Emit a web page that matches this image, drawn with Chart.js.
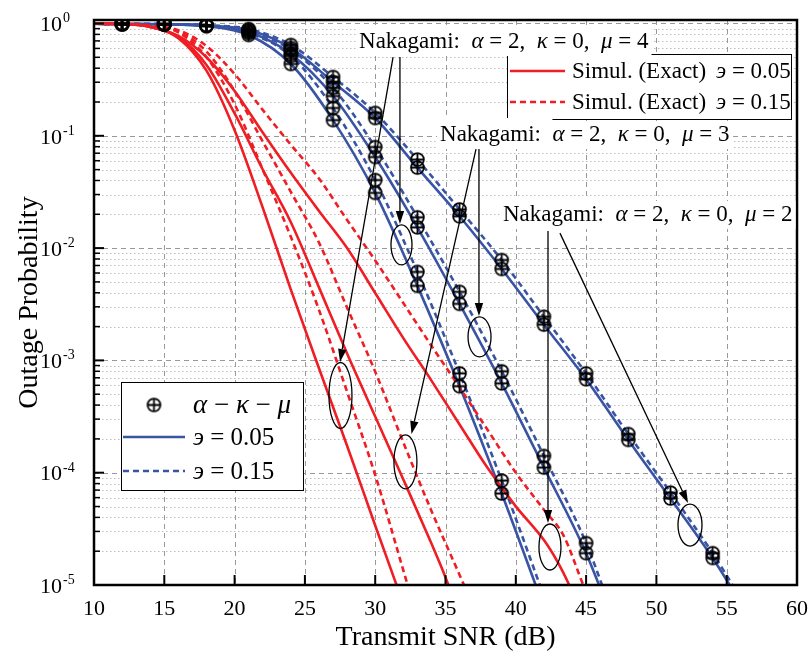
<!DOCTYPE html>
<html>
<head>
<meta charset="utf-8">
<script src="https://cdn.jsdelivr.net/npm/chart.js@4.4.0/dist/chart.umd.min.js"></script>
<style>
  html, body { margin: 0; padding: 0; background: #fff; }
  #wrap { width: 809px; height: 656px; }
</style>
</head>
<body>
<div id="wrap"><canvas id="chart" width="809" height="656"></canvas></div>
<script>
// --- DATA ---
// alpha-kappa-mu analysis (blue lines + markers)
const snrMu2 = [10, 12, 15, 18, 21, 24, 27, 30, 33, 36, 39, 42, 45, 48, 51, 54, 56];
const akmMu2Eps005 = [0.995, 0.99, 0.985, 0.96, 0.875, 0.605, 0.301, 0.144, 0.0521, 0.0192, 6.52e-3, 2.08e-3, 6.79e-4, 1.96e-4, 5.89e-5, 1.74e-5, 6.92e-6];
const akmMu2Eps015 = [0.995, 0.99, 0.985, 0.965, 0.893, 0.644, 0.334, 0.160, 0.0614, 0.0221, 7.83e-3, 2.45e-3, 7.67e-4, 2.21e-4, 6.65e-5, 1.92e-5, 7.59e-6];

const snrMu3 = [10, 12, 15, 18, 21, 24, 27, 30, 33, 36, 39, 42, 45, 47];
const akmMu3Eps005 = [0.995, 0.99, 0.985, 0.955, 0.84, 0.535, 0.226, 0.0647, 0.0153, 3.19e-3, 6.25e-4, 1.11e-4, 1.92e-5, 4.47e-6];
const akmMu3Eps015 = [0.995, 0.99, 0.985, 0.96, 0.857, 0.581, 0.267, 0.0794, 0.0188, 4.08e-3, 8.0e-4, 1.41e-4, 2.36e-5, 5.01e-6];

const snrMu4 = [10, 12, 15, 18, 21, 24, 27, 30, 33, 36, 39, 42];
const akmMu4Eps005 = [0.995, 0.99, 0.985, 0.95, 0.79, 0.436, 0.138, 0.031, 4.61e-3, 5.89e-4, 6.52e-5, 6.31e-6];
const akmMu4Eps015 = [0.995, 0.99, 0.985, 0.955, 0.823, 0.514, 0.177, 0.0404, 6.14e-3, 7.67e-4, 8.51e-5, 7.94e-6];

const markerSnr = [12, 15, 18, 21, 24, 27, 30, 33, 36, 39, 42, 45, 48, 51, 54];

// Nakagami simulation (red lines)
const snrSimMu4Eps005 = [10, 12, 14, 16, 18, 20, 22, 24, 26, 28, 30, 31.4, 32];
const simMu4Eps005 = [0.995, 0.989, 0.933, 0.741, 0.380, 0.112, 0.0229, 4.27e-3, 8.51e-4, 1.74e-4, 3.39e-5, 1.10e-5, 6.76e-6];
const snrSimMu4Eps015 = [10, 12, 14, 16, 18, 20, 22, 24, 26, 28, 30, 32, 33];
const simMu4Eps015 = [0.995, 0.991, 0.955, 0.832, 0.501, 0.191, 0.0501, 0.0126, 2.82e-3, 5.25e-4, 9.55e-5, 1.35e-5, 5.01e-6];

const snrSimMu3Eps005 = [10, 12, 14, 16, 18, 20, 22, 24, 26, 28, 30, 32, 34, 34.9, 35.5];
const simMu3Eps005 = [0.995, 0.989, 0.933, 0.759, 0.427, 0.158, 0.0501, 0.0170, 4.47e-3, 1.15e-3, 3.16e-4, 8.71e-5, 2.34e-5, 1.26e-5, 7.94e-6];
const snrSimMu3Eps015 = [10, 12, 14, 16, 18, 20, 22, 24, 26, 28, 30, 32, 34, 36, 37];
const simMu3Eps015 = [0.995, 0.991, 0.955, 0.851, 0.562, 0.251, 0.0891, 0.0316, 0.0112, 2.95e-3, 7.94e-4, 1.86e-4, 4.57e-5, 1.23e-5, 6.31e-6];

const snrSimMu2Eps005 = [10, 12, 14, 16, 18, 20, 22, 24, 26, 28, 30, 32, 34, 36, 38, 40, 42, 43, 43.8, 44.5];
const simMu2Eps005 = [0.995, 0.989, 0.933, 0.776, 0.501, 0.251, 0.107, 0.0468, 0.0214, 0.01, 3.98e-3, 1.58e-3, 6.61e-4, 2.69e-4, 1.10e-4, 5.01e-5, 2.51e-5, 1.58e-5, 1.0e-5, 6.31e-6];
const snrSimMu2Eps015 = [10, 12, 14, 16, 18, 20, 22, 24, 26, 28, 30, 32, 34, 36, 38, 40, 42, 43.4, 44.8, 45.5];
const simMu2Eps015 = [0.995, 0.991, 0.955, 0.871, 0.631, 0.355, 0.170, 0.0832, 0.0417, 0.0178, 7.76e-3, 3.24e-3, 1.35e-3, 5.75e-4, 2.40e-4, 1.0e-4, 4.68e-5, 2.75e-5, 1.0e-5, 6.31e-6];

// axes
const xTicks = [10, 15, 20, 25, 30, 35, 40, 45, 50, 55, 60];
const yExponents = [0, -1, -2, -3, -4, -5];
const Y_MIN = 1e-5, Y_MAX = 1.0744;

// annotations: label text + where the arrows / ellipses sit (SNR dB, probability)
const naka = [
  { mu: 4, at: [28.85, 0.684] },
  { mu: 3, at: [34.61, 0.1016] },
  { mu: 2, at: [39.09, 0.0197] }
];
const arrows = [
  [[31.27, 0.503], [27.50, 9.68e-4]],
  [[31.76, 0.503], [31.76, 0.0164]],
  [[37.17, 0.0762], [32.58, 2.21e-4]],
  [[37.38, 0.0762], [37.38, 2.48e-3]],
  [[42.29, 0.0142], [42.29, 3.56e-5]],
  [[43.14, 0.0136], [52.25, 5.37e-5]]
];
const ellipses = [
  [27.53, 4.87e-4, 11.5, 33],
  [32.15, 1.25e-4, 11.5, 27],
  [31.87, 1.07e-2, 10.5, 20],
  [37.42, 1.62e-3, 11.5, 20],
  [42.43, 2.18e-5, 11, 23],
  [52.39, 3.42e-5, 12, 21]
];

// --- STYLE ---
const SERIF = '"Liberation Serif", "Times New Roman", serif';
const RED = 'rgb(239, 30, 36)';
const BLUE = 'rgb(57, 84, 164)';
const DASH = [6, 4];

function pairs(xs, ys) {
  return xs.map((x, i) => ({ x: x, y: ys[i] }));
}

function makePlusCircle(r) {
  const c = document.createElement('canvas');
  const s = Math.ceil(r * 2 + 4);
  c.width = s; c.height = s;
  const g = c.getContext('2d');
  const m = s / 2;
  g.strokeStyle = '#000';
  g.lineWidth = 1.8;
  g.beginPath(); g.arc(m, m, r, 0, Math.PI * 2); g.stroke();
  g.beginPath();
  g.moveTo(m - r, m); g.lineTo(m + r, m);
  g.moveTo(m, m - r); g.lineTo(m, m + r);
  g.stroke();
  return c;
}
const plusCircle = makePlusCircle(6.4);

// markers: every analytical curve at the marker SNRs, inside the plotted range
const akmCurves = [
  [snrMu2, akmMu2Eps005], [snrMu2, akmMu2Eps015],
  [snrMu3, akmMu3Eps005], [snrMu3, akmMu3Eps015],
  [snrMu4, akmMu4Eps005], [snrMu4, akmMu4Eps015]
];
const markerPoints = [];
akmCurves.forEach(([xs, ys]) => {
  xs.forEach((x, i) => {
    if (markerSnr.includes(x) && ys[i] >= Y_MIN) markerPoints.push({ x: x, y: ys[i] });
  });
});

function lineSet(label, xs, ys, color, dashed, order) {
  return {
    label: label,
    data: pairs(xs, ys),
    borderColor: color,
    borderWidth: 2.6,
    borderDash: dashed ? DASH : [],
    pointRadius: 0,
    fill: false,
    cubicInterpolationMode: 'monotone',
    order: order
  };
}

const datasets = [
  {
    label: 'α − κ − μ',
    data: markerPoints,
    showLine: false,
    pointStyle: plusCircle,
    pointRadius: 6,
    borderColor: '#000',
    order: 0
  },
  lineSet('Simul. μ=4 э=0.05', snrSimMu4Eps005, simMu4Eps005, RED, false, 1),
  lineSet('Simul. μ=4 э=0.15', snrSimMu4Eps015, simMu4Eps015, RED, true, 1),
  lineSet('Simul. μ=3 э=0.05', snrSimMu3Eps005, simMu3Eps005, RED, false, 1),
  lineSet('Simul. μ=3 э=0.15', snrSimMu3Eps015, simMu3Eps015, RED, true, 1),
  lineSet('Simul. μ=2 э=0.05', snrSimMu2Eps005, simMu2Eps005, RED, false, 1),
  lineSet('Simul. μ=2 э=0.15', snrSimMu2Eps015, simMu2Eps015, RED, true, 1),
  lineSet('α-κ-μ μ=2 э=0.05', snrMu2, akmMu2Eps005, BLUE, false, 2),
  lineSet('α-κ-μ μ=2 э=0.15', snrMu2, akmMu2Eps015, BLUE, true, 2),
  lineSet('α-κ-μ μ=3 э=0.05', snrMu3, akmMu3Eps005, BLUE, false, 2),
  lineSet('α-κ-μ μ=3 э=0.15', snrMu3, akmMu3Eps015, BLUE, true, 2),
  lineSet('α-κ-μ μ=4 э=0.05', snrMu4, akmMu4Eps005, BLUE, false, 2),
  lineSet('α-κ-μ μ=4 э=0.15', snrMu4, akmMu4Eps015, BLUE, true, 2)
];

// draws text made of [string, italic] runs, returns width
function richText(ctx, parts, size, x, y, measureOnly) {
  let cx = x;
  parts.forEach(([t, it]) => {
    ctx.font = (it ? 'italic ' : '') + size + 'px ' + SERIF;
    if (!measureOnly) ctx.fillText(t, cx, y);
    cx += ctx.measureText(t).width;
  });
  return cx - x;
}

const figurePlugin = {
  id: 'figure',
  beforeDatasetsDraw(chart) {
    const { ctx, chartArea: a } = chart;
    const xs = chart.scales.x, ys = chart.scales.y;
    ctx.save();
    ctx.lineWidth = 1;
    // minor horizontal grid (dotted)
    ctx.strokeStyle = '#bdbdbd';
    ctx.setLineDash([1.5, 2.5]);
    for (let e = -5; e < 0; e++) {
      for (let m = 2; m <= 9; m++) {
        const py = Math.round(ys.getPixelForValue(m * Math.pow(10, e))) + 0.5;
        ctx.beginPath(); ctx.moveTo(a.left, py); ctx.lineTo(a.right, py); ctx.stroke();
      }
    }
    // major grid (dashed)
    ctx.strokeStyle = '#999';
    ctx.setLineDash([5, 4]);
    yExponents.forEach(e => {
      const py = Math.round(ys.getPixelForValue(Math.pow(10, e))) + 0.5;
      ctx.beginPath(); ctx.moveTo(a.left, py); ctx.lineTo(a.right, py); ctx.stroke();
    });
    xTicks.slice(1, -1).forEach(v => {
      const px = Math.round(xs.getPixelForValue(v)) + 0.5;
      ctx.beginPath(); ctx.moveTo(px, a.top); ctx.lineTo(px, a.bottom); ctx.stroke();
    });
    ctx.restore();
  },
  afterDatasetsDraw(chart) {
    const { ctx, chartArea: a } = chart;
    const xs = chart.scales.x, ys = chart.scales.y;
    const X = v => xs.getPixelForValue(v);
    const Y = v => ys.getPixelForValue(v);
    ctx.save();
    ctx.setLineDash([]);
    ctx.fillStyle = '#000';
    ctx.strokeStyle = '#000';

    // frame
    ctx.lineWidth = 2.5;
    ctx.strokeRect(a.left, a.top, a.right - a.left, a.bottom - a.top);

    // inward ticks
    ctx.lineWidth = 2;
    yExponents.forEach(e => {
      const py = Y(Math.pow(10, e));
      ctx.beginPath(); ctx.moveTo(a.left, py); ctx.lineTo(a.left + 10, py); ctx.stroke();
    });
    ctx.lineWidth = 1.5;
    for (let e = -5; e < 0; e++) {
      for (let m = 2; m <= 9; m++) {
        const py = Y(m * Math.pow(10, e));
        ctx.beginPath(); ctx.moveTo(a.left, py); ctx.lineTo(a.left + 6, py); ctx.stroke();
      }
    }
    ctx.lineWidth = 2;
    xTicks.forEach(v => {
      const px = X(v);
      ctx.beginPath(); ctx.moveTo(px, a.bottom); ctx.lineTo(px, a.bottom - 10); ctx.stroke();
    });

    // tick labels
    ctx.textBaseline = 'middle';
    ctx.textAlign = 'center';
    ctx.font = '22px ' + SERIF;
    xTicks.forEach(v => ctx.fillText(String(v), X(v), 609));
    ctx.textAlign = 'left';
    yExponents.forEach(e => {
      const py = Y(Math.pow(10, e));
      ctx.font = '22px ' + SERIF;
      ctx.textBaseline = 'middle';
      ctx.fillText('10', 40, py + 2);
      const w = ctx.measureText('10').width;
      ctx.font = '14px ' + SERIF;
      ctx.textBaseline = 'alphabetic';
      ctx.fillText(String(e), 41 + w, py - 1);
    });

    // axis titles
    ctx.textBaseline = 'middle';
    ctx.textAlign = 'center';
    ctx.font = '28px ' + SERIF;
    ctx.fillText('Transmit SNR (dB)', (a.left + a.right) / 2, 638);
    ctx.save();
    ctx.translate(30, (a.top + a.bottom) / 2);
    ctx.rotate(-Math.PI / 2);
    ctx.fillText('Outage Probability', 0, 0);
    ctx.restore();

    // arrows and ellipses
    ctx.lineWidth = 1.3;
    arrows.forEach(([from, to]) => {
      const x0 = X(from[0]), y0 = Y(from[1]), x1 = X(to[0]), y1 = Y(to[1]);
      const ang = Math.atan2(y1 - y0, x1 - x0);
      const L = 13, W = 4.2;
      const bx = x1 - L * Math.cos(ang), by = y1 - L * Math.sin(ang);
      ctx.beginPath(); ctx.moveTo(x0, y0); ctx.lineTo(bx, by); ctx.stroke();
      ctx.beginPath();
      ctx.moveTo(x1, y1);
      ctx.lineTo(bx + W * Math.sin(ang), by - W * Math.cos(ang));
      ctx.lineTo(bx - W * Math.sin(ang), by + W * Math.cos(ang));
      ctx.closePath(); ctx.fill();
    });
    ellipses.forEach(([sx, p, rx, ry]) => {
      ctx.beginPath();
      ctx.ellipse(X(sx), Y(p), rx, ry, 0, 0, Math.PI * 2);
      ctx.stroke();
    });

    // legend: simulation (top right)
    ctx.lineWidth = 1;
    ctx.fillStyle = '#fff';
    ctx.fillRect(507, 54, 284, 65);
    ctx.strokeRect(507.5, 54.5, 284, 65);
    ctx.lineWidth = 2.6;
    ctx.strokeStyle = RED;
    ctx.beginPath(); ctx.moveTo(510, 71); ctx.lineTo(565, 71); ctx.stroke();
    ctx.setLineDash(DASH);
    ctx.beginPath(); ctx.moveTo(510, 102); ctx.lineTo(565, 102); ctx.stroke();
    ctx.setLineDash([]);
    ctx.fillStyle = '#000';
    ctx.textAlign = 'left';
    ctx.textBaseline = 'middle';
    [['0.05', 72], ['0.15', 103]].forEach(([v, y]) => {
      ctx.font = '23px ' + SERIF;
      ctx.fillText('Simul. (Exact)', 572, y);
      richText(ctx, [['э', true], [' = ' + v, false]], 23, 716, y);
    });

    // legend: analysis (bottom left)
    ctx.strokeStyle = '#000';
    ctx.lineWidth = 1;
    ctx.fillStyle = '#fff';
    ctx.fillRect(121, 382, 182, 108);
    ctx.strokeRect(121.5, 382.5, 182, 108);
    ctx.drawImage(plusCircle, 154 - plusCircle.width / 2, 405 - plusCircle.height / 2);
    ctx.lineWidth = 2.6;
    ctx.strokeStyle = BLUE;
    ctx.beginPath(); ctx.moveTo(123, 437); ctx.lineTo(185, 437); ctx.stroke();
    ctx.setLineDash(DASH);
    ctx.beginPath(); ctx.moveTo(123, 471); ctx.lineTo(185, 471); ctx.stroke();
    ctx.setLineDash([]);
    ctx.fillStyle = '#000';
    richText(ctx, [['α', true], [' − ', false], ['κ', true], [' − ', false], ['μ', true]], 27, 193, 406);
    richText(ctx, [['э', true], [' = 0.05', false]], 25, 193, 438);
    richText(ctx, [['э', true], [' = 0.15', false]], 25, 193, 472);

    // Nakagami labels: the word and the formula each get their own white backing
    naka.forEach(n => {
      const word = [['Nakagami:  ', false]];
      const formula = [['α', true], [' = 2,  ', false], ['κ', true],
                       [' = 0,  ', false], ['μ', true], [' = ' + n.mu, false]];
      const x = X(n.at[0]), y = Y(n.at[1]);
      const w1 = richText(ctx, word, 23, x, y, true);
      const w2 = richText(ctx, formula, 23, x + w1, y, true);
      ctx.fillStyle = '#fff';
      ctx.fillRect(x - 3, y - 17, w1 + 3, 31);
      ctx.fillRect(x + w1, y - 14, w2 + 3, 28);
      ctx.fillStyle = '#000';
      richText(ctx, word, 23, x, y);
      richText(ctx, formula, 23, x + w1, y);
    });
    ctx.restore();
  }
};

new Chart(document.getElementById('chart'), {
  type: 'line',
  data: { datasets: datasets },
  options: {
    responsive: false,
    animation: false,
    layout: { padding: { top: 20, right: 12, left: 0, bottom: 0 } },
    plugins: { legend: { display: false }, tooltip: { enabled: false } },
    scales: {
      x: {
        type: 'linear', min: 10, max: 60,
        ticks: { display: false }, grid: { display: false }, border: { display: false },
        afterFit: s => { s.height = 71; }
      },
      y: {
        type: 'logarithmic', min: Y_MIN, max: Y_MAX,
        ticks: { display: false }, grid: { display: false }, border: { display: false },
        afterFit: s => { s.width = 94; }
      }
    }
  },
  plugins: [figurePlugin]
});
</script>
</body>
</html>
